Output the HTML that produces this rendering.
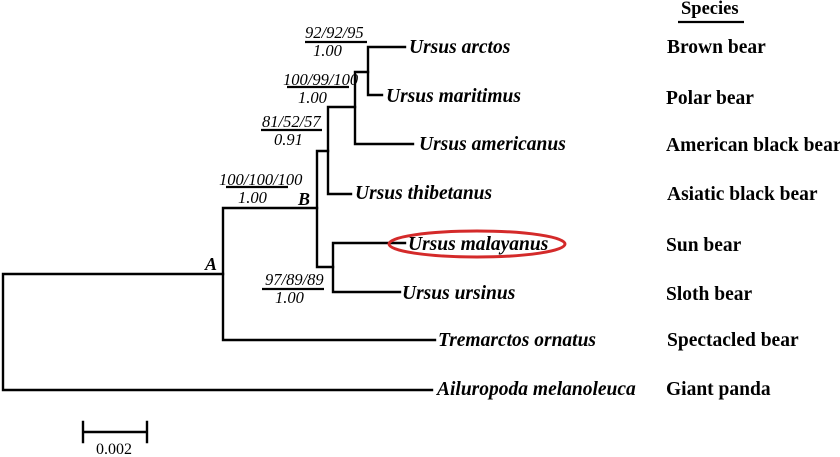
<!DOCTYPE html>
<html><head><meta charset="utf-8"><style>
html,body{margin:0;padding:0;background:#fff;}
svg{display:block;}
.sp{font:italic bold 19.5px "Liberation Serif",serif;fill:#000;}
.cn{font:bold 19.5px "Liberation Serif",serif;fill:#000;}
.bs{font:italic 16.5px "Liberation Serif",serif;fill:#000;}
</style></head><body>
<svg width="840" height="457" viewBox="0 0 840 457" xmlns="http://www.w3.org/2000/svg">
<g stroke="#000" stroke-width="2.4" fill="none" stroke-linecap="square">
<path d="M3 274 V390 M3 274 H223 M3 390 H432"/>
<path d="M223 208 V340 M223 340 H435 M223 208 H317"/>
<path d="M317 151 V267 M317 151 H328 M317 267 H333"/>
<path d="M333 243 V292 M333 243 H405 M333 292 H400"/>
<path d="M328 107 V194 M328 194 H351 M328 107 H355"/>
<path d="M355 72 V144 M355 144 H413 M355 72 H368"/>
<path d="M368 47 V95 M368 47 H405 M368 95 H382"/>
<path d="M83 432 H147 M83 422 V442 M147 422 V442"/>
</g>
<g stroke="#000" stroke-width="2.2">
<path d="M305 42 H367 M287 87 H349 M261 130 H322 M226 187 H288 M262 289 H324 M678 22 H744"/>
</g>
<ellipse cx="477" cy="244" rx="88" ry="13" fill="none" stroke="#d42a2a" stroke-width="3"/>
<text class="sp" x="409" y="53">Ursus arctos</text>
<text class="sp" x="386" y="102">Ursus maritimus</text>
<text class="sp" x="419" y="150">Ursus americanus</text>
<text class="sp" x="355" y="199">Ursus thibetanus</text>
<text class="sp" x="408" y="250">Ursus malayanus</text>
<text class="sp" x="402" y="299">Ursus ursinus</text>
<text class="sp" x="438" y="346">Tremarctos ornatus</text>
<text class="sp" x="437" y="395">Ailuropoda melanoleuca</text>
<text class="cn" x="681" y="14" style="font-size:18.5px">Species</text>
<text class="cn" x="667" y="53">Brown bear</text>
<text class="cn" x="666" y="104">Polar bear</text>
<text class="cn" x="666" y="151">American black bear</text>
<text class="cn" x="667" y="200">Asiatic black bear</text>
<text class="cn" x="666" y="251">Sun bear</text>
<text class="cn" x="666" y="300">Sloth bear</text>
<text class="cn" x="667" y="346">Spectacled bear</text>
<text class="cn" x="666" y="395">Giant panda</text>
<text class="bs" x="305" y="38">92/92/95</text>
<text class="bs" x="313" y="56">1.00</text>
<text class="bs" x="283" y="85">100/99/100</text>
<text class="bs" x="298" y="103">1.00</text>
<text class="bs" x="262" y="127">81/52/57</text>
<text class="bs" x="274" y="145">0.91</text>
<text class="bs" x="219" y="185">100/100/100</text>
<text class="bs" x="238" y="203">1.00</text>
<text class="bs" x="265" y="285">97/89/89</text>
<text class="bs" x="275" y="303">1.00</text>
<text class="sp" x="298" y="205" style="font-size:18px">B</text>
<text class="sp" x="205" y="270" style="font-size:18px">A</text>
<text x="96" y="454" style="font:16px 'Liberation Serif',serif">0.002</text>
</svg>
</body></html>
